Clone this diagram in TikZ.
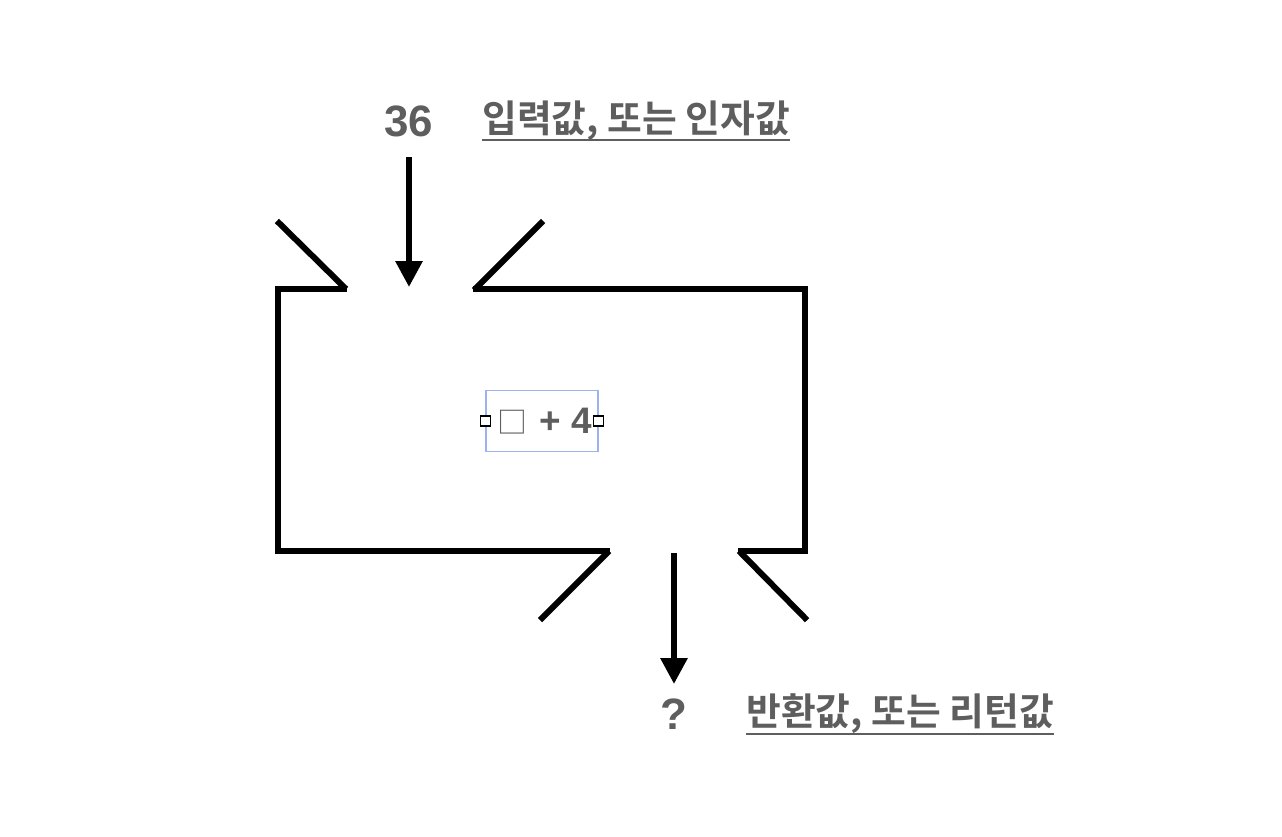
\documentclass[tikz,border=0pt]{standalone}
\usepackage{fontspec}
\setmainfont{Liberation Sans}[BoldFont={Liberation Sans Bold}]
\newfontfamily\numfont{Liberation Sans Bold}
\newfontfamily\kr{Noto Sans CJK KR Bold}
\newfontfamily\krlight{Noto Sans CJK KR}
\usetikzlibrary{arrows.meta,positioning}

\definecolor{txtgray}{HTML}{5E5E5E}
\definecolor{selblue}{HTML}{9DB3F0}

\begin{document}
\begin{tikzpicture}[x=0.02cm,y=-0.02cm,>={Triangle[length=0.52cm,width=0.52cm]},
  wall/.style={line width=0.12cm,line cap=rect,line join=miter},
  flow/.style={->,line width=0.12cm},
  val/.style={text=txtgray,font=\numfont\fontsize{25}{28}\selectfont,inner sep=0pt},
  lbl/.style={text=txtgray,font=\kr\fontsize{21.5}{26}\selectfont,inner sep=0pt,anchor=west},
  uline/.style={draw=txtgray,line width=1.6pt},
  handle/.style={draw,fill=white,line width=0.6pt,minimum size=0.2cm,inner sep=0pt}]

\useasboundingbox (0,0) rectangle (1282,836);

% the machine
\draw[wall] (344,287) -- (279,223);
\draw[wall] (344,289) -- (278,289) -- (278,551) -- (607,551);
\draw[wall] (607,553) -- (542,618);
\draw[wall] (476,288) -- (541,223);
\draw[wall] (476,289) -- (805,289) -- (805,551) -- (741,551);
\draw[wall] (741,553) -- (805,618);

% input
\node[val] (in) at (409,121) {36};
\node[lbl] (inlbl) at (482,121) {입력값, 또는 인자값};
\draw[uline] (482,140) -- (inlbl.east |- 0,140);
\coordinate (intop) at (409,157);
\coordinate (intip) at (409,287);
\draw[flow] (intop) -- (intip);

% rule
\node[draw=selblue,line width=0.8pt,minimum width=2.24cm,minimum height=1.22cm,
  text=txtgray,font=\numfont\fontsize{21}{24}\selectfont] (rule) at (542,421) {};
\node[text=txtgray,font=\numfont\fontsize{21}{24}\selectfont,inner sep=0pt] (expr) at (545,421)
  {{\krlight\fontsize{17}{20}\selectfont □}\hspace{7pt}+ 4};
\node[handle] (hl) at (rule.west) {};
\node[handle] (hr) at (rule.east) {};

% output
\node[val] (out) at (674,714) {?};
\node[lbl] (outlbl) at (746,714) {반환값, 또는 리턴값};
\draw[uline] (746,734) -- (outlbl.east |- 0,734);
\coordinate (outtop) at (674,553);
\coordinate (outtip) at (674,684);
\draw[flow] (outtop) -- (outtip);
\end{tikzpicture}
\end{document}
